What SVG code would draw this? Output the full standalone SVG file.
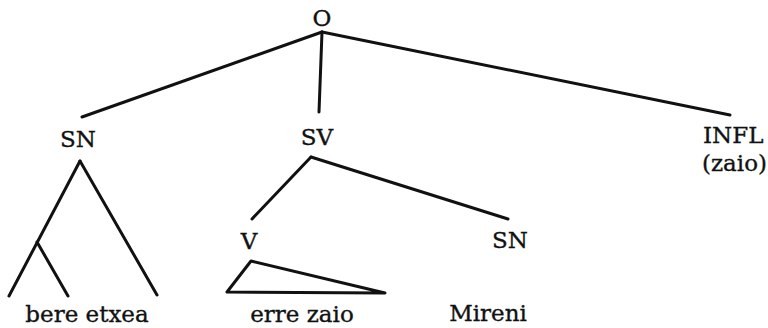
<svg xmlns="http://www.w3.org/2000/svg" width="768" height="328" viewBox="0 0 768 328">
  <style>
    .lbl { font-family: "DejaVu Serif", "Liberation Serif", serif; font-size: 23px; fill: #111; stroke: #111; stroke-width: 0.35; }
    .mid { text-anchor: middle; }
    .edge { stroke: #111; stroke-width: 3; fill: none; stroke-linecap: round; stroke-linejoin: round; }
  </style>
  <rect width="768" height="328" fill="#fff"/>

  <!-- branches -->
  <g id="connectors">
    <line class="edge" x1="322" y1="32" x2="82" y2="117"/>
    <line class="edge" x1="322" y1="32" x2="319" y2="112"/>
    <line class="edge" x1="322" y1="32" x2="730" y2="115"/>
    <line class="edge" x1="311" y1="157" x2="252" y2="219"/>
    <line class="edge" x1="311" y1="157" x2="508" y2="219"/>
    <!-- SN subtree -->
    <line class="edge" x1="80" y1="161" x2="9" y2="296"/>
    <line class="edge" x1="80" y1="161" x2="157" y2="295"/>
    <line class="edge" x1="37" y1="242" x2="68" y2="296"/>
    <!-- V triangle -->
    <polygon class="edge" points="251,261 227,292 385,293"/>
  </g>

  <g id="node-O"><text class="lbl mid" x="322" y="26">O</text></g>
  <g id="node-SN1"><text class="lbl mid" x="78" y="147">SN</text></g>
  <g id="node-SV"><text class="lbl mid" x="317" y="145">SV</text></g>
  <g id="node-INFL">
    <text class="lbl" x="703" y="143">INFL</text>
    <text class="lbl" x="702" y="171">(zaio)</text>
  </g>
  <g id="node-V"><text class="lbl mid" x="249" y="249">V</text></g>
  <g id="node-SN2"><text class="lbl mid" x="510" y="248">SN</text></g>
  <g id="leaf-bere-etxea"><text class="lbl mid" x="87" y="322">bere etxea</text></g>
  <g id="leaf-erre-zaio"><text class="lbl mid" x="302" y="322">erre zaio</text></g>
  <g id="leaf-Mireni"><text class="lbl mid" x="488" y="321">Mireni</text></g>
</svg>
